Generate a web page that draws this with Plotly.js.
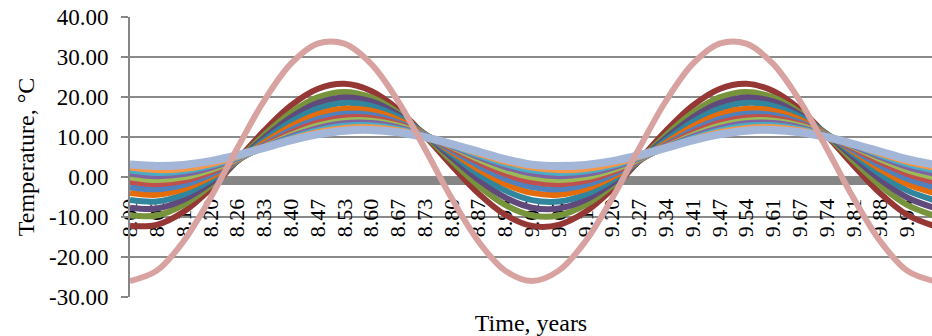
<!DOCTYPE html>
<html>
<head>
<meta charset="utf-8">
<script src="https://cdn.plot.ly/plotly-3.0.1.min.js"></script>
<style>
html,body{margin:0;padding:0;background:#fff;}
#chart{width:932px;height:336px;}
#chart text{font-family:"Liberation Serif","Times New Roman",serif !important;}
</style>
</head>
<body>
<div id="chart"></div>
<script>
// ---- data ----
const xIndex = [0,1,2,3,4,5,6,7,8,9,10,11,12,13,14,15,16,17,18,19,20,21,22,23,24,25,26,27,28,29,30];
const xLabels = ['8.00','8.06','8.13','8.20','8.26','8.33','8.40','8.47','8.53','8.60','8.67','8.73','8.80','8.87','8.94',
                 '9.00','9.07','9.14','9.20','9.27','9.34','9.41','9.47','9.54','9.61','9.67','9.74','9.81','9.88','9.94'];
const yTickVals = [-30,-20,-10,0,10,20,30,40];
const yTickLabels = ['-30.00','-20.00','-10.00','0.00','10.00','20.00','30.00','40.00'];

const surface = [-26,-23.41,-16.07,-5.27,7.14,19,28.27,33.34,33.34,28.27,19,7.14,-5.27,-16.07,-23.41,
                 -26,-23.41,-16.07,-5.27,7.14,19,28.27,33.34,33.34,28.27,19,7.14,-5.27,-16.07,-23.41,-26];
const d1 = [-12.23,-11.97,-8.71,-3.00,4.15,11.52,17.84,22.00,23.29,21.49,16.91,10.33,2.91,-4.09,-9.44,
            -12.23,-11.97,-8.71,-3.00,4.15,11.52,17.84,22.00,23.29,21.49,16.91,10.33,2.91,-4.09,-9.44,-12.23];
const d2 = [-9.61,-9.61,-6.97,-2.15,4.02,10.47,16.09,19.90,21.25,19.90,16.09,10.47,4.02,-2.15,-6.97,
            -9.61,-9.61,-6.97,-2.15,4.02,10.47,16.09,19.90,21.25,19.90,16.09,10.47,4.02,-2.15,-6.97,-9.61];
const d3 = [-7.68,-7.89,-5.71,-1.52,3.95,9.76,14.90,18.48,19.89,18.88,15.63,10.69,4.92,-0.67,-5.13,
            -7.68,-7.89,-5.71,-1.52,3.95,9.76,14.90,18.48,19.89,18.88,15.63,10.69,4.92,-0.67,-5.13,-7.68];
const d4 = [-5.77,-6.13,-4.37,-0.78,4.00,9.15,13.78,17.10,18.52,17.80,15.07,10.80,5.72,0.71,-3.35,
            -5.77,-6.13,-4.37,-0.78,4.00,9.15,13.78,17.10,18.52,17.80,15.07,10.80,5.72,0.71,-3.35,-5.77];
const d5 = [-3.97,-4.44,-3.05,-0.05,4.05,8.55,12.65,15.65,17.04,16.57,14.33,10.69,6.30,1.91,-1.73,
            -3.97,-4.44,-3.05,-0.05,4.05,8.55,12.65,15.65,17.04,16.57,14.33,10.69,6.30,1.91,-1.73,-3.97];
const d6 = [-2.53,-3.08,-1.99,0.55,4.10,8.05,11.71,14.46,15.81,15.53,13.68,10.56,6.73,2.84,-0.43,
            -2.53,-3.08,-1.99,0.55,4.10,8.05,11.71,14.46,15.81,15.53,13.68,10.56,6.73,2.84,-0.43,-2.53];
const d7 = [-1.19,-1.79,-0.95,1.20,4.28,7.77,11.05,13.56,14.87,14.75,13.22,10.54,7.19,3.73,0.77,
            -1.19,-1.79,-0.95,1.20,4.28,7.77,11.05,13.56,14.87,14.75,13.22,10.54,7.19,3.73,0.77,-1.19];
const d8 = [-0.10,-0.75,-0.10,1.73,4.43,7.53,10.50,12.82,14.09,14.09,12.82,10.50,7.53,4.43,1.73,
            -0.10,-0.75,-0.10,1.73,4.43,7.53,10.50,12.82,14.09,14.09,12.82,10.50,7.53,4.43,1.73,-0.10];
const d9 = [0.85,0.20,0.71,2.29,4.66,7.43,10.10,12.22,13.42,13.49,12.42,10.40,7.77,5.00,2.55,
            0.85,0.20,0.71,2.29,4.66,7.43,10.10,12.22,13.42,13.49,12.42,10.40,7.77,5.00,2.55,0.85];
const d10 = [1.65,1.01,1.40,2.76,4.85,7.31,9.72,11.66,12.80,12.93,12.03,10.27,7.94,5.45,3.22,
             1.65,1.01,1.40,2.76,4.85,7.31,9.72,11.66,12.80,12.93,12.03,10.27,7.94,5.45,3.22,1.65];
const d11 = [2.35,1.72,2.01,3.18,5.03,7.24,9.43,11.21,12.28,12.46,11.71,10.16,8.08,5.84,3.81,
             2.35,1.72,2.01,3.18,5.03,7.24,9.43,11.21,12.28,12.46,11.71,10.16,8.08,5.84,3.81,2.35];
const d12 = [3.10,2.73,3.02,3.96,5.47,7.30,9.13,10.64,11.58,11.78,11.20,9.95,8.24,6.37,4.46,
             3.10,2.73,3.02,3.96,5.47,7.30,9.13,10.64,11.58,11.78,11.20,9.95,8.24,6.37,4.46,3.10];

// ---- styling ----
const series = [
  {y: d1,  color: '#953735', w: 6},
  {y: d2,  color: '#77933C', w: 6},
  {y: d3,  color: '#604A7B', w: 6},
  {y: d4,  color: '#31859C', w: 6},
  {y: d5,  color: '#E46C0A', w: 6},
  {y: d6,  color: '#4F81BD', w: 6},
  {y: d7,  color: '#C0504D', w: 6},
  {y: d8,  color: '#9BBB59', w: 6},
  {y: d9,  color: '#8064A2', w: 6},
  {y: d10, color: '#4BACC6', w: 6},
  {y: d11, color: '#F79646', w: 6},
  {y: d12, color: '#A3B6D8', w: 8},
  {y: surface, color: '#D8A2A0', w: 6}
];

const traces = series.map(s => ({
  x: xIndex, y: s.y, type: 'scatter', mode: 'lines',
  line: {color: s.color, width: s.w, shape: 'spline', smoothing: 1},
  hoverinfo: 'skip', showlegend: false
}));

const yMin = -30, yMax = 40, axisCross = -1;
const font = 'Liberation Serif';

const layout = {
  width: 932, height: 336,
  margin: {l: 130, r: 0, t: 17, b: 39, pad: 0},
  paper_bgcolor: '#ffffff', plot_bgcolor: '#ffffff',
  showlegend: false,
  font: {family: font, size: 23, color: '#000'},
  xaxis: {
    range: [0, 29.93],
    tickmode: 'array', tickvals: xIndex.slice(0, xLabels.length), ticktext: xLabels,
    tickangle: -90, ticks: '', showgrid: false, zeroline: false,
    showline: true, linecolor: '#868686', linewidth: 8,
    anchor: 'free', position: (axisCross - yMin) / (yMax - yMin),
    layer: 'below traces',
    ticklabelstandoff: 5,
    tickfont: {family: font, size: 22, color: '#000'},
    title: {text: 'Time, years', font: {family: font, size: 24, color: '#000'}, standoff: 78}
  },
  yaxis: {
    range: [yMin, yMax],
    tickmode: 'array', tickvals: yTickVals, ticktext: yTickLabels,
    ticks: 'outside', ticklen: 7, tickwidth: 2, tickcolor: '#868686',
    showgrid: true, gridcolor: '#8a8a8a', gridwidth: 2,
    zeroline: false,
    showline: true, linecolor: '#868686', linewidth: 2,
    ticklabelstandoff: 8,
    tickfont: {family: font, size: 23, color: '#000'},
    title: {text: 'Temperature, °C', font: {family: font, size: 24, color: '#000'}, standoff: 8}
  }
};

Plotly.newPlot('chart', traces, layout, {staticPlot: true, displayModeBar: false});
</script>
</body>
</html>
